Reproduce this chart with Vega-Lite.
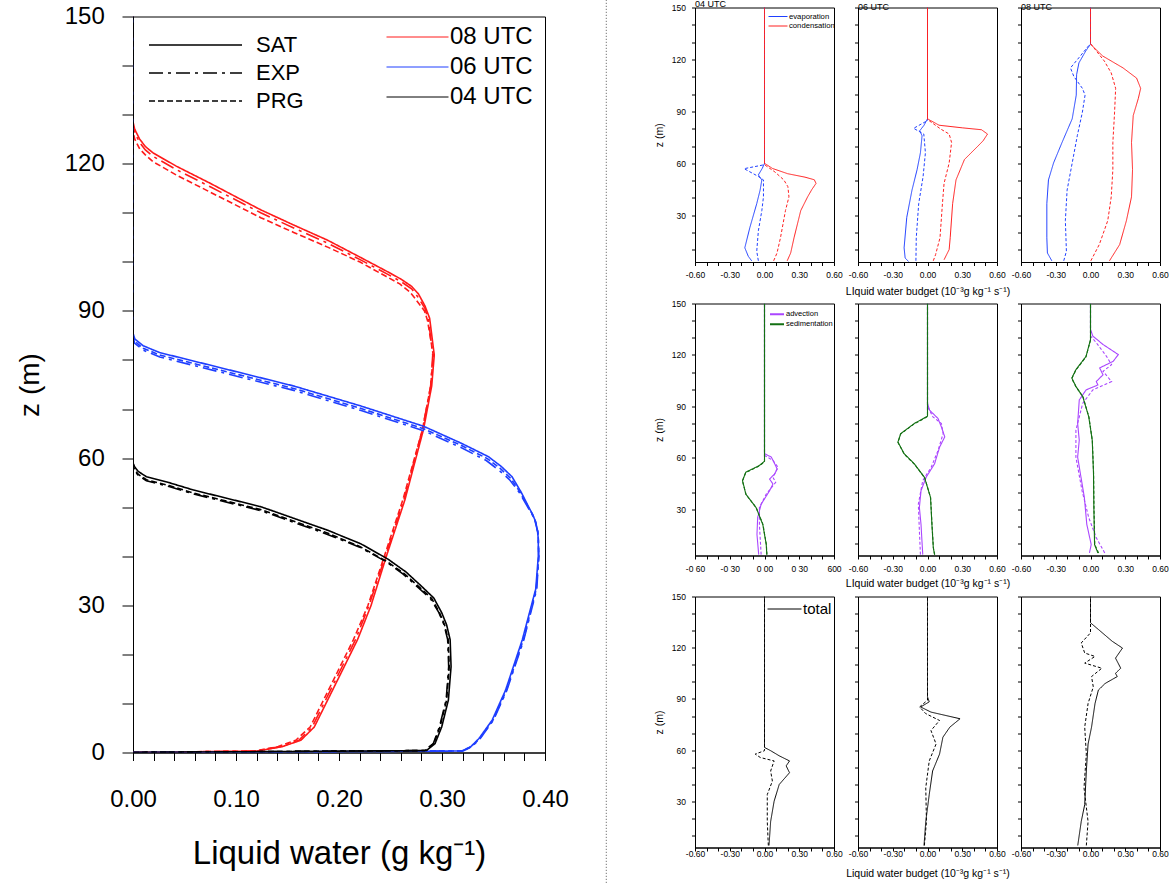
{
"$schema": "https://vega.github.io/schema/vega-lite/v6.json",
"padding": {"left": 15, "top": -1.5, "right": 0, "bottom": 0},
"config": {
  "font": "Liberation Sans",
  "view": {"stroke": "#000000", "strokeWidth": 1},
  "axis": {"domainColor": "#000000", "domainWidth": 1, "grid": false, "labelColor": "#000000", "titleColor": "#000000", "titleFontWeight": "normal", "tickColor": "#000000", "labelOverlap": false, "labelFlush": false},
  "legend": {"labelColor": "#000000", "padding": 0},
  "title": {"color": "#000000", "fontWeight": "normal"},
  "line": {"strokeCap": "butt"}
},
"datasets": {
"left": [
{"t":"08 UTC","s":"SAT","z":0,"v":0},{"t":"08 UTC","s":"SAT","z":0.3,"v":0.1205},{"t":"08 UTC","s":"SAT","z":1.2,"v":0.145},{"t":"08 UTC","s":"SAT","z":2.5,"v":0.163},{"t":"08 UTC","s":"SAT","z":5.2,"v":0.176},{"t":"08 UTC","s":"SAT","z":10.7,"v":0.189},{"t":"08 UTC","s":"SAT","z":16.2,"v":0.202},{"t":"08 UTC","s":"SAT","z":23,"v":0.218},{"t":"08 UTC","s":"SAT","z":29.9,"v":0.231},{"t":"08 UTC","s":"SAT","z":40,"v":0.246},{"t":"08 UTC","s":"SAT","z":51.5,"v":0.264},{"t":"08 UTC","s":"SAT","z":65.8,"v":0.282},{"t":"08 UTC","s":"SAT","z":74.7,"v":0.29},{"t":"08 UTC","s":"SAT","z":81,"v":0.2925},{"t":"08 UTC","s":"SAT","z":88.5,"v":0.288},{"t":"08 UTC","s":"SAT","z":91,"v":0.2835},{"t":"08 UTC","s":"SAT","z":93.5,"v":0.277},{"t":"08 UTC","s":"SAT","z":95,"v":0.2705},{"t":"08 UTC","s":"SAT","z":96.5,"v":0.26},{"t":"08 UTC","s":"SAT","z":98,"v":0.247},{"t":"08 UTC","s":"SAT","z":101,"v":0.22},{"t":"08 UTC","s":"SAT","z":104.4,"v":0.189},{"t":"08 UTC","s":"SAT","z":107.5,"v":0.156},{"t":"08 UTC","s":"SAT","z":110.6,"v":0.124},{"t":"08 UTC","s":"SAT","z":116,"v":0.075},{"t":"08 UTC","s":"SAT","z":119.5,"v":0.042},{"t":"08 UTC","s":"SAT","z":122.2,"v":0.0195},{"t":"08 UTC","s":"SAT","z":123.5,"v":0.012},{"t":"08 UTC","s":"SAT","z":125,"v":0.0065},{"t":"08 UTC","s":"SAT","z":127,"v":0.0017},{"t":"08 UTC","s":"SAT","z":128.5,"v":0},{"t":"08 UTC","s":"SAT","z":150,"v":0},
{"t":"08 UTC","s":"EXP","z":0,"v":0},{"t":"08 UTC","s":"EXP","z":0.3,"v":0.119},{"t":"08 UTC","s":"EXP","z":1.2,"v":0.143},{"t":"08 UTC","s":"EXP","z":2.5,"v":0.161},{"t":"08 UTC","s":"EXP","z":5.2,"v":0.174},{"t":"08 UTC","s":"EXP","z":10.7,"v":0.187},{"t":"08 UTC","s":"EXP","z":16.2,"v":0.2},{"t":"08 UTC","s":"EXP","z":23,"v":0.216},{"t":"08 UTC","s":"EXP","z":29.9,"v":0.229},{"t":"08 UTC","s":"EXP","z":40,"v":0.245},{"t":"08 UTC","s":"EXP","z":51.5,"v":0.263},{"t":"08 UTC","s":"EXP","z":65.8,"v":0.281},{"t":"08 UTC","s":"EXP","z":74.7,"v":0.289},{"t":"08 UTC","s":"EXP","z":81,"v":0.291},{"t":"08 UTC","s":"EXP","z":88,"v":0.287},{"t":"08 UTC","s":"EXP","z":90.5,"v":0.2835},{"t":"08 UTC","s":"EXP","z":93,"v":0.276},{"t":"08 UTC","s":"EXP","z":94.5,"v":0.2705},{"t":"08 UTC","s":"EXP","z":96,"v":0.26},{"t":"08 UTC","s":"EXP","z":97.5,"v":0.247},{"t":"08 UTC","s":"EXP","z":100.5,"v":0.22},{"t":"08 UTC","s":"EXP","z":103.8,"v":0.189},{"t":"08 UTC","s":"EXP","z":106.9,"v":0.156},{"t":"08 UTC","s":"EXP","z":110,"v":0.124},{"t":"08 UTC","s":"EXP","z":115.3,"v":0.075},{"t":"08 UTC","s":"EXP","z":118.8,"v":0.042},{"t":"08 UTC","s":"EXP","z":121.5,"v":0.0195},{"t":"08 UTC","s":"EXP","z":122.8,"v":0.012},{"t":"08 UTC","s":"EXP","z":124.3,"v":0.0065},{"t":"08 UTC","s":"EXP","z":126.3,"v":0.0017},{"t":"08 UTC","s":"EXP","z":127.8,"v":0},{"t":"08 UTC","s":"EXP","z":150,"v":0},
{"t":"08 UTC","s":"PRG","z":0,"v":0},{"t":"08 UTC","s":"PRG","z":0.3,"v":0.118},{"t":"08 UTC","s":"PRG","z":1.2,"v":0.141},{"t":"08 UTC","s":"PRG","z":2.5,"v":0.158},{"t":"08 UTC","s":"PRG","z":5.2,"v":0.172},{"t":"08 UTC","s":"PRG","z":10.7,"v":0.185},{"t":"08 UTC","s":"PRG","z":16.2,"v":0.198},{"t":"08 UTC","s":"PRG","z":23,"v":0.214},{"t":"08 UTC","s":"PRG","z":29.9,"v":0.228},{"t":"08 UTC","s":"PRG","z":40,"v":0.244},{"t":"08 UTC","s":"PRG","z":51.5,"v":0.262},{"t":"08 UTC","s":"PRG","z":65.8,"v":0.281},{"t":"08 UTC","s":"PRG","z":74.7,"v":0.289},{"t":"08 UTC","s":"PRG","z":81,"v":0.2915},{"t":"08 UTC","s":"PRG","z":88,"v":0.286},{"t":"08 UTC","s":"PRG","z":90,"v":0.283},{"t":"08 UTC","s":"PRG","z":92.5,"v":0.274},{"t":"08 UTC","s":"PRG","z":93.8,"v":0.269},{"t":"08 UTC","s":"PRG","z":95.5,"v":0.259},{"t":"08 UTC","s":"PRG","z":97,"v":0.246},{"t":"08 UTC","s":"PRG","z":100,"v":0.22},{"t":"08 UTC","s":"PRG","z":103,"v":0.189},{"t":"08 UTC","s":"PRG","z":106,"v":0.156},{"t":"08 UTC","s":"PRG","z":109,"v":0.124},{"t":"08 UTC","s":"PRG","z":114.2,"v":0.075},{"t":"08 UTC","s":"PRG","z":117.7,"v":0.042},{"t":"08 UTC","s":"PRG","z":120.4,"v":0.0195},{"t":"08 UTC","s":"PRG","z":121.8,"v":0.012},{"t":"08 UTC","s":"PRG","z":123,"v":0.0065},{"t":"08 UTC","s":"PRG","z":125,"v":0.0017},{"t":"08 UTC","s":"PRG","z":126.5,"v":0},{"t":"08 UTC","s":"PRG","z":150,"v":0},
{"t":"06 UTC","s":"SAT","z":0,"v":0},{"t":"06 UTC","s":"SAT","z":0.3,"v":0.3193},{"t":"06 UTC","s":"SAT","z":1.2,"v":0.328},{"t":"06 UTC","s":"SAT","z":2.8,"v":0.3357},{"t":"06 UTC","s":"SAT","z":6.6,"v":0.3487},{"t":"06 UTC","s":"SAT","z":12.7,"v":0.3617},{"t":"06 UTC","s":"SAT","z":23,"v":0.378},{"t":"06 UTC","s":"SAT","z":33.3,"v":0.391},{"t":"06 UTC","s":"SAT","z":40,"v":0.3935},{"t":"06 UTC","s":"SAT","z":43.5,"v":0.3935},{"t":"06 UTC","s":"SAT","z":45,"v":0.3928},{"t":"06 UTC","s":"SAT","z":47,"v":0.391},{"t":"06 UTC","s":"SAT","z":48.5,"v":0.388},{"t":"06 UTC","s":"SAT","z":50.1,"v":0.384},{"t":"06 UTC","s":"SAT","z":53,"v":0.377},{"t":"06 UTC","s":"SAT","z":56.2,"v":0.368},{"t":"06 UTC","s":"SAT","z":58.3,"v":0.3575},{"t":"06 UTC","s":"SAT","z":60.3,"v":0.345},{"t":"06 UTC","s":"SAT","z":63,"v":0.319},{"t":"06 UTC","s":"SAT","z":66.5,"v":0.282},{"t":"06 UTC","s":"SAT","z":70.6,"v":0.2215},{"t":"06 UTC","s":"SAT","z":74.7,"v":0.156},{"t":"06 UTC","s":"SAT","z":78.1,"v":0.091},{"t":"06 UTC","s":"SAT","z":81.5,"v":0.026},{"t":"06 UTC","s":"SAT","z":82.9,"v":0.0098},{"t":"06 UTC","s":"SAT","z":84.3,"v":0.0017},{"t":"06 UTC","s":"SAT","z":85.5,"v":0},{"t":"06 UTC","s":"SAT","z":150,"v":0},
{"t":"06 UTC","s":"EXP","z":0,"v":0},{"t":"06 UTC","s":"EXP","z":0.3,"v":0.3205},{"t":"06 UTC","s":"EXP","z":1.2,"v":0.329},{"t":"06 UTC","s":"EXP","z":2.8,"v":0.337},{"t":"06 UTC","s":"EXP","z":6.6,"v":0.35},{"t":"06 UTC","s":"EXP","z":12.7,"v":0.363},{"t":"06 UTC","s":"EXP","z":23,"v":0.3795},{"t":"06 UTC","s":"EXP","z":33.3,"v":0.392},{"t":"06 UTC","s":"EXP","z":40,"v":0.394},{"t":"06 UTC","s":"EXP","z":43.5,"v":0.3935},{"t":"06 UTC","s":"EXP","z":45,"v":0.393},{"t":"06 UTC","s":"EXP","z":47,"v":0.3905},{"t":"06 UTC","s":"EXP","z":48.5,"v":0.3875},{"t":"06 UTC","s":"EXP","z":50.1,"v":0.383},{"t":"06 UTC","s":"EXP","z":53,"v":0.375},{"t":"06 UTC","s":"EXP","z":55.5,"v":0.366},{"t":"06 UTC","s":"EXP","z":57.5,"v":0.3555},{"t":"06 UTC","s":"EXP","z":59.5,"v":0.343},{"t":"06 UTC","s":"EXP","z":62.2,"v":0.318},{"t":"06 UTC","s":"EXP","z":65.6,"v":0.282},{"t":"06 UTC","s":"EXP","z":69.7,"v":0.2215},{"t":"06 UTC","s":"EXP","z":73.8,"v":0.156},{"t":"06 UTC","s":"EXP","z":77.2,"v":0.091},{"t":"06 UTC","s":"EXP","z":80.6,"v":0.026},{"t":"06 UTC","s":"EXP","z":82,"v":0.0098},{"t":"06 UTC","s":"EXP","z":83.4,"v":0.0017},{"t":"06 UTC","s":"EXP","z":84.6,"v":0},{"t":"06 UTC","s":"EXP","z":150,"v":0},
{"t":"06 UTC","s":"PRG","z":0,"v":0},{"t":"06 UTC","s":"PRG","z":0.3,"v":0.32},{"t":"06 UTC","s":"PRG","z":1.2,"v":0.3285},{"t":"06 UTC","s":"PRG","z":2.8,"v":0.3365},{"t":"06 UTC","s":"PRG","z":6.6,"v":0.3495},{"t":"06 UTC","s":"PRG","z":12.7,"v":0.3625},{"t":"06 UTC","s":"PRG","z":23,"v":0.379},{"t":"06 UTC","s":"PRG","z":33.3,"v":0.3915},{"t":"06 UTC","s":"PRG","z":40,"v":0.394},{"t":"06 UTC","s":"PRG","z":43.5,"v":0.3935},{"t":"06 UTC","s":"PRG","z":45,"v":0.393},{"t":"06 UTC","s":"PRG","z":47,"v":0.3908},{"t":"06 UTC","s":"PRG","z":48.5,"v":0.388},{"t":"06 UTC","s":"PRG","z":50.1,"v":0.3835},{"t":"06 UTC","s":"PRG","z":53,"v":0.376},{"t":"06 UTC","s":"PRG","z":55.8,"v":0.367},{"t":"06 UTC","s":"PRG","z":57.9,"v":0.3565},{"t":"06 UTC","s":"PRG","z":59.9,"v":0.344},{"t":"06 UTC","s":"PRG","z":62.6,"v":0.3185},{"t":"06 UTC","s":"PRG","z":66,"v":0.282},{"t":"06 UTC","s":"PRG","z":70.1,"v":0.2215},{"t":"06 UTC","s":"PRG","z":74.2,"v":0.156},{"t":"06 UTC","s":"PRG","z":77.6,"v":0.091},{"t":"06 UTC","s":"PRG","z":81,"v":0.026},{"t":"06 UTC","s":"PRG","z":82.4,"v":0.0098},{"t":"06 UTC","s":"PRG","z":83.8,"v":0.0017},{"t":"06 UTC","s":"PRG","z":85,"v":0},{"t":"06 UTC","s":"PRG","z":150,"v":0},
{"t":"04 UTC","s":"SAT","z":0,"v":0},{"t":"04 UTC","s":"SAT","z":0.4,"v":0.285},{"t":"04 UTC","s":"SAT","z":1.8,"v":0.2932},{"t":"04 UTC","s":"SAT","z":5.2,"v":0.2997},{"t":"04 UTC","s":"SAT","z":10.7,"v":0.3062},{"t":"04 UTC","s":"SAT","z":17.5,"v":0.3088},{"t":"04 UTC","s":"SAT","z":23,"v":0.3079},{"t":"04 UTC","s":"SAT","z":26,"v":0.3045},{"t":"04 UTC","s":"SAT","z":28.5,"v":0.2997},{"t":"04 UTC","s":"SAT","z":31.5,"v":0.292},{"t":"04 UTC","s":"SAT","z":33.9,"v":0.28},{"t":"04 UTC","s":"SAT","z":36.8,"v":0.265},{"t":"04 UTC","s":"SAT","z":39.4,"v":0.2476},{"t":"04 UTC","s":"SAT","z":42.5,"v":0.2215},{"t":"04 UTC","s":"SAT","z":45.3,"v":0.189},{"t":"04 UTC","s":"SAT","z":50.1,"v":0.124},{"t":"04 UTC","s":"SAT","z":53.5,"v":0.0586},{"t":"04 UTC","s":"SAT","z":55,"v":0.035},{"t":"04 UTC","s":"SAT","z":56.2,"v":0.013},{"t":"04 UTC","s":"SAT","z":57.3,"v":0.005},{"t":"04 UTC","s":"SAT","z":58.2,"v":0.0017},{"t":"04 UTC","s":"SAT","z":59,"v":0},{"t":"04 UTC","s":"SAT","z":150,"v":0},
{"t":"04 UTC","s":"EXP","z":0,"v":0},{"t":"04 UTC","s":"EXP","z":0.4,"v":0.283},{"t":"04 UTC","s":"EXP","z":1.8,"v":0.2915},{"t":"04 UTC","s":"EXP","z":5.2,"v":0.2975},{"t":"04 UTC","s":"EXP","z":10.7,"v":0.304},{"t":"04 UTC","s":"EXP","z":17.5,"v":0.3065},{"t":"04 UTC","s":"EXP","z":23,"v":0.3055},{"t":"04 UTC","s":"EXP","z":26,"v":0.302},{"t":"04 UTC","s":"EXP","z":28.5,"v":0.297},{"t":"04 UTC","s":"EXP","z":31.3,"v":0.289},{"t":"04 UTC","s":"EXP","z":33.6,"v":0.277},{"t":"04 UTC","s":"EXP","z":36.4,"v":0.262},{"t":"04 UTC","s":"EXP","z":38.9,"v":0.2456},{"t":"04 UTC","s":"EXP","z":41.9,"v":0.2195},{"t":"04 UTC","s":"EXP","z":44.6,"v":0.187},{"t":"04 UTC","s":"EXP","z":49.3,"v":0.124},{"t":"04 UTC","s":"EXP","z":52.7,"v":0.0586},{"t":"04 UTC","s":"EXP","z":54.2,"v":0.035},{"t":"04 UTC","s":"EXP","z":55.4,"v":0.013},{"t":"04 UTC","s":"EXP","z":56.5,"v":0.005},{"t":"04 UTC","s":"EXP","z":57.4,"v":0.0017},{"t":"04 UTC","s":"EXP","z":58.2,"v":0},{"t":"04 UTC","s":"EXP","z":150,"v":0},
{"t":"04 UTC","s":"PRG","z":0,"v":0},{"t":"04 UTC","s":"PRG","z":0.4,"v":0.2835},{"t":"04 UTC","s":"PRG","z":1.8,"v":0.292},{"t":"04 UTC","s":"PRG","z":5.2,"v":0.298},{"t":"04 UTC","s":"PRG","z":10.7,"v":0.3045},{"t":"04 UTC","s":"PRG","z":17.5,"v":0.307},{"t":"04 UTC","s":"PRG","z":23,"v":0.306},{"t":"04 UTC","s":"PRG","z":26,"v":0.3025},{"t":"04 UTC","s":"PRG","z":28.5,"v":0.2975},{"t":"04 UTC","s":"PRG","z":31.4,"v":0.29},{"t":"04 UTC","s":"PRG","z":33.7,"v":0.278},{"t":"04 UTC","s":"PRG","z":36.5,"v":0.263},{"t":"04 UTC","s":"PRG","z":39,"v":0.246},{"t":"04 UTC","s":"PRG","z":42,"v":0.22},{"t":"04 UTC","s":"PRG","z":44.8,"v":0.188},{"t":"04 UTC","s":"PRG","z":49.5,"v":0.124},{"t":"04 UTC","s":"PRG","z":52.9,"v":0.0586},{"t":"04 UTC","s":"PRG","z":54.4,"v":0.035},{"t":"04 UTC","s":"PRG","z":55.6,"v":0.013},{"t":"04 UTC","s":"PRG","z":56.7,"v":0.005},{"t":"04 UTC","s":"PRG","z":57.6,"v":0.0017},{"t":"04 UTC","s":"PRG","z":58.4,"v":0},{"t":"04 UTC","s":"PRG","z":150,"v":0}
],
"budget": [
{"r":1,"t":"04","term":"evaporation","s":"SAT","z":150,"v":0},{"r":1,"t":"04","term":"evaporation","s":"SAT","z":60,"v":0},{"r":1,"t":"04","term":"evaporation","s":"SAT","z":57,"v":-0.02},{"r":1,"t":"04","term":"evaporation","s":"SAT","z":53.3,"v":-0.053},{"r":1,"t":"04","term":"evaporation","s":"SAT","z":50.4,"v":-0.023},{"r":1,"t":"04","term":"evaporation","s":"SAT","z":44.5,"v":-0.038},{"r":1,"t":"04","term":"evaporation","s":"SAT","z":36.7,"v":-0.067},{"r":1,"t":"04","term":"evaporation","s":"SAT","z":23,"v":-0.126},{"r":1,"t":"04","term":"evaporation","s":"SAT","z":11.2,"v":-0.17},{"r":1,"t":"04","term":"evaporation","s":"SAT","z":6.3,"v":-0.14},{"r":1,"t":"04","term":"evaporation","s":"SAT","z":3.7,"v":-0.111},
{"r":1,"t":"04","term":"evaporation","s":"PRG","z":150,"v":0},{"r":1,"t":"04","term":"evaporation","s":"PRG","z":59.2,"v":0},{"r":1,"t":"04","term":"evaporation","s":"PRG","z":56.9,"v":-0.176},{"r":1,"t":"04","term":"evaporation","s":"PRG","z":52.4,"v":-0.053},{"r":1,"t":"04","term":"evaporation","s":"PRG","z":50.4,"v":-0.009},{"r":1,"t":"04","term":"evaporation","s":"PRG","z":40.6,"v":-0.009},{"r":1,"t":"04","term":"evaporation","s":"PRG","z":32.7,"v":-0.023},{"r":1,"t":"04","term":"evaporation","s":"PRG","z":21,"v":-0.053},{"r":1,"t":"04","term":"evaporation","s":"PRG","z":9.2,"v":-0.067},{"r":1,"t":"04","term":"evaporation","s":"PRG","z":3.7,"v":-0.053},
{"r":1,"t":"04","term":"condensation","s":"SAT","z":150,"v":0},{"r":1,"t":"04","term":"condensation","s":"SAT","z":60,"v":0},{"r":1,"t":"04","term":"condensation","s":"SAT","z":57,"v":0.07},{"r":1,"t":"04","term":"condensation","s":"SAT","z":54,"v":0.2},{"r":1,"t":"04","term":"condensation","s":"SAT","z":52,"v":0.35},{"r":1,"t":"04","term":"condensation","s":"SAT","z":50.5,"v":0.43},{"r":1,"t":"04","term":"condensation","s":"SAT","z":48.4,"v":0.445},{"r":1,"t":"04","term":"condensation","s":"SAT","z":45,"v":0.41},{"r":1,"t":"04","term":"condensation","s":"SAT","z":40.6,"v":0.372},{"r":1,"t":"04","term":"condensation","s":"SAT","z":32.7,"v":0.313},{"r":1,"t":"04","term":"condensation","s":"SAT","z":17,"v":0.255},{"r":1,"t":"04","term":"condensation","s":"SAT","z":8.2,"v":0.226},{"r":1,"t":"04","term":"condensation","s":"SAT","z":3.7,"v":0.196},
{"r":1,"t":"04","term":"condensation","s":"PRG","z":150,"v":0},{"r":1,"t":"04","term":"condensation","s":"PRG","z":59.2,"v":0},{"r":1,"t":"04","term":"condensation","s":"PRG","z":55,"v":0.09},{"r":1,"t":"04","term":"condensation","s":"PRG","z":50.4,"v":0.167},{"r":1,"t":"04","term":"condensation","s":"PRG","z":46.5,"v":0.202},{"r":1,"t":"04","term":"condensation","s":"PRG","z":40.6,"v":0.211},{"r":1,"t":"04","term":"condensation","s":"PRG","z":32.7,"v":0.181},{"r":1,"t":"04","term":"condensation","s":"PRG","z":17,"v":0.138},{"r":1,"t":"04","term":"condensation","s":"PRG","z":8.2,"v":0.108},{"r":1,"t":"04","term":"condensation","s":"PRG","z":3.7,"v":0.079},
{"r":1,"t":"06","term":"evaporation","s":"SAT","z":150,"v":0},{"r":1,"t":"06","term":"evaporation","s":"SAT","z":85.7,"v":0},{"r":1,"t":"06","term":"evaporation","s":"SAT","z":82,"v":-0.03},{"r":1,"t":"06","term":"evaporation","s":"SAT","z":78.8,"v":-0.067},{"r":1,"t":"06","term":"evaporation","s":"SAT","z":75.9,"v":-0.047},{"r":1,"t":"06","term":"evaporation","s":"SAT","z":66.1,"v":-0.061},{"r":1,"t":"06","term":"evaporation","s":"SAT","z":56.3,"v":-0.09},{"r":1,"t":"06","term":"evaporation","s":"SAT","z":44.5,"v":-0.134},{"r":1,"t":"06","term":"evaporation","s":"SAT","z":28.8,"v":-0.179},{"r":1,"t":"06","term":"evaporation","s":"SAT","z":11.2,"v":-0.202},{"r":1,"t":"06","term":"evaporation","s":"SAT","z":5.3,"v":-0.193},{"r":1,"t":"06","term":"evaporation","s":"SAT","z":3.3,"v":-0.164},
{"r":1,"t":"06","term":"evaporation","s":"PRG","z":150,"v":0},{"r":1,"t":"06","term":"evaporation","s":"PRG","z":84.7,"v":0},{"r":1,"t":"06","term":"evaporation","s":"PRG","z":80.2,"v":-0.12},{"r":1,"t":"06","term":"evaporation","s":"PRG","z":76.9,"v":-0.032},{"r":1,"t":"06","term":"evaporation","s":"PRG","z":66.1,"v":-0.018},{"r":1,"t":"06","term":"evaporation","s":"PRG","z":52.4,"v":-0.038},{"r":1,"t":"06","term":"evaporation","s":"PRG","z":36.7,"v":-0.076},{"r":1,"t":"06","term":"evaporation","s":"PRG","z":17,"v":-0.097},{"r":1,"t":"06","term":"evaporation","s":"PRG","z":3.7,"v":-0.1},
{"r":1,"t":"06","term":"condensation","s":"SAT","z":150,"v":0},{"r":1,"t":"06","term":"condensation","s":"SAT","z":85.7,"v":0},{"r":1,"t":"06","term":"condensation","s":"SAT","z":82,"v":0.1},{"r":1,"t":"06","term":"condensation","s":"SAT","z":80.5,"v":0.3},{"r":1,"t":"06","term":"condensation","s":"SAT","z":79.4,"v":0.466},{"r":1,"t":"06","term":"condensation","s":"SAT","z":76.9,"v":0.518},{"r":1,"t":"06","term":"condensation","s":"SAT","z":73,"v":0.48},{"r":1,"t":"06","term":"condensation","s":"SAT","z":70,"v":0.436},{"r":1,"t":"06","term":"condensation","s":"SAT","z":62.2,"v":0.319},{"r":1,"t":"06","term":"condensation","s":"SAT","z":50.4,"v":0.246},{"r":1,"t":"06","term":"condensation","s":"SAT","z":36.7,"v":0.217},{"r":1,"t":"06","term":"condensation","s":"SAT","z":17,"v":0.196},{"r":1,"t":"06","term":"condensation","s":"SAT","z":10.2,"v":0.187},{"r":1,"t":"06","term":"condensation","s":"SAT","z":4.3,"v":0.143},
{"r":1,"t":"06","term":"condensation","s":"PRG","z":150,"v":0},{"r":1,"t":"06","term":"condensation","s":"PRG","z":85.3,"v":0},{"r":1,"t":"06","term":"condensation","s":"PRG","z":79.8,"v":0.114},{"r":1,"t":"06","term":"condensation","s":"PRG","z":76.9,"v":0.187},{"r":1,"t":"06","term":"condensation","s":"PRG","z":72,"v":0.208},{"r":1,"t":"06","term":"condensation","s":"PRG","z":60.2,"v":0.187},{"r":1,"t":"06","term":"condensation","s":"PRG","z":48.4,"v":0.143},{"r":1,"t":"06","term":"condensation","s":"PRG","z":36.7,"v":0.129},{"r":1,"t":"06","term":"condensation","s":"PRG","z":17,"v":0.108},{"r":1,"t":"06","term":"condensation","s":"PRG","z":7.3,"v":0.07},{"r":1,"t":"06","term":"condensation","s":"PRG","z":3.7,"v":0.05},
{"r":1,"t":"08","term":"evaporation","s":"SAT","z":150,"v":0},{"r":1,"t":"08","term":"evaporation","s":"SAT","z":128.8,"v":0},{"r":1,"t":"08","term":"evaporation","s":"SAT","z":124.9,"v":-0.041},{"r":1,"t":"08","term":"evaporation","s":"SAT","z":118,"v":-0.1},{"r":1,"t":"08","term":"evaporation","s":"SAT","z":111.2,"v":-0.12},{"r":1,"t":"08","term":"evaporation","s":"SAT","z":99.4,"v":-0.123},{"r":1,"t":"08","term":"evaporation","s":"SAT","z":85.7,"v":-0.158},{"r":1,"t":"08","term":"evaporation","s":"SAT","z":72,"v":-0.246},{"r":1,"t":"08","term":"evaporation","s":"SAT","z":60.2,"v":-0.319},{"r":1,"t":"08","term":"evaporation","s":"SAT","z":50.4,"v":-0.363},{"r":1,"t":"08","term":"evaporation","s":"SAT","z":36.7,"v":-0.377},{"r":1,"t":"08","term":"evaporation","s":"SAT","z":17,"v":-0.377},{"r":1,"t":"08","term":"evaporation","s":"SAT","z":8.2,"v":-0.372},{"r":1,"t":"08","term":"evaporation","s":"SAT","z":3.7,"v":-0.334},
{"r":1,"t":"08","term":"evaporation","s":"PRG","z":150,"v":0},{"r":1,"t":"08","term":"evaporation","s":"PRG","z":129.2,"v":0},{"r":1,"t":"08","term":"evaporation","s":"PRG","z":121,"v":-0.1},{"r":1,"t":"08","term":"evaporation","s":"PRG","z":115.1,"v":-0.173},{"r":1,"t":"08","term":"evaporation","s":"PRG","z":110.2,"v":-0.144},{"r":1,"t":"08","term":"evaporation","s":"PRG","z":103.3,"v":-0.07},{"r":1,"t":"08","term":"evaporation","s":"PRG","z":99.4,"v":-0.047},{"r":1,"t":"08","term":"evaporation","s":"PRG","z":89.6,"v":-0.07},{"r":1,"t":"08","term":"evaporation","s":"PRG","z":75.9,"v":-0.114},{"r":1,"t":"08","term":"evaporation","s":"PRG","z":60.2,"v":-0.158},{"r":1,"t":"08","term":"evaporation","s":"PRG","z":44.5,"v":-0.202},{"r":1,"t":"08","term":"evaporation","s":"PRG","z":26.9,"v":-0.217},{"r":1,"t":"08","term":"evaporation","s":"PRG","z":9.2,"v":-0.208},{"r":1,"t":"08","term":"evaporation","s":"PRG","z":3.7,"v":-0.231},
{"r":1,"t":"08","term":"condensation","s":"SAT","z":150,"v":0},{"r":1,"t":"08","term":"condensation","s":"SAT","z":128.8,"v":0},{"r":1,"t":"08","term":"condensation","s":"SAT","z":122,"v":0.105},{"r":1,"t":"08","term":"condensation","s":"SAT","z":115.1,"v":0.281},{"r":1,"t":"08","term":"condensation","s":"SAT","z":109.2,"v":0.398},{"r":1,"t":"08","term":"condensation","s":"SAT","z":103.3,"v":0.433},{"r":1,"t":"08","term":"condensation","s":"SAT","z":97.5,"v":0.413},{"r":1,"t":"08","term":"condensation","s":"SAT","z":87.6,"v":0.369},{"r":1,"t":"08","term":"condensation","s":"SAT","z":72,"v":0.354},{"r":1,"t":"08","term":"condensation","s":"SAT","z":56.3,"v":0.363},{"r":1,"t":"08","term":"condensation","s":"SAT","z":40.6,"v":0.354},{"r":1,"t":"08","term":"condensation","s":"SAT","z":26.9,"v":0.31},{"r":1,"t":"08","term":"condensation","s":"SAT","z":13.1,"v":0.252},{"r":1,"t":"08","term":"condensation","s":"SAT","z":3.7,"v":0.164},
{"r":1,"t":"08","term":"condensation","s":"PRG","z":150,"v":0},{"r":1,"t":"08","term":"condensation","s":"PRG","z":129.2,"v":0},{"r":1,"t":"08","term":"condensation","s":"PRG","z":119,"v":0.12},{"r":1,"t":"08","term":"condensation","s":"PRG","z":112.2,"v":0.179},{"r":1,"t":"08","term":"condensation","s":"PRG","z":103.3,"v":0.217},{"r":1,"t":"08","term":"condensation","s":"PRG","z":89.6,"v":0.208},{"r":1,"t":"08","term":"condensation","s":"PRG","z":72,"v":0.193},{"r":1,"t":"08","term":"condensation","s":"PRG","z":56.3,"v":0.193},{"r":1,"t":"08","term":"condensation","s":"PRG","z":40.6,"v":0.179},{"r":1,"t":"08","term":"condensation","s":"PRG","z":26.9,"v":0.149},{"r":1,"t":"08","term":"condensation","s":"PRG","z":13.1,"v":0.076},{"r":1,"t":"08","term":"condensation","s":"PRG","z":3.7,"v":0.003},
{"r":2,"t":"04","term":"advection","s":"SAT","z":150,"v":0},{"r":2,"t":"04","term":"advection","s":"SAT","z":62.4,"v":0},{"r":2,"t":"04","term":"advection","s":"SAT","z":60.4,"v":0.059},{"r":2,"t":"04","term":"advection","s":"SAT","z":56.5,"v":0.088},{"r":2,"t":"04","term":"advection","s":"SAT","z":53.5,"v":0.109},{"r":2,"t":"04","term":"advection","s":"SAT","z":50.6,"v":0.088},{"r":2,"t":"04","term":"advection","s":"SAT","z":47.6,"v":0.044},{"r":2,"t":"04","term":"advection","s":"SAT","z":44.7,"v":0.073},{"r":2,"t":"04","term":"advection","s":"SAT","z":40.8,"v":0.044},{"r":2,"t":"04","term":"advection","s":"SAT","z":32.9,"v":-0.029},{"r":2,"t":"04","term":"advection","s":"SAT","z":25.1,"v":-0.059},{"r":2,"t":"04","term":"advection","s":"SAT","z":15.3,"v":-0.065},{"r":2,"t":"04","term":"advection","s":"SAT","z":3.5,"v":-0.05},
{"r":2,"t":"04","term":"advection","s":"PRG","z":150,"v":0},{"r":2,"t":"04","term":"advection","s":"PRG","z":61.4,"v":0},{"r":2,"t":"04","term":"advection","s":"PRG","z":58.4,"v":0.073},{"r":2,"t":"04","term":"advection","s":"PRG","z":54.5,"v":0.117},{"r":2,"t":"04","term":"advection","s":"PRG","z":48.6,"v":0.073},{"r":2,"t":"04","term":"advection","s":"PRG","z":45.7,"v":0.097},{"r":2,"t":"04","term":"advection","s":"PRG","z":38.8,"v":0.015},{"r":2,"t":"04","term":"advection","s":"PRG","z":31,"v":-0.044},{"r":2,"t":"04","term":"advection","s":"PRG","z":21.2,"v":-0.044},{"r":2,"t":"04","term":"advection","s":"PRG","z":3.5,"v":-0.029},
{"r":2,"t":"04","term":"sedimentation","s":"SAT","z":150,"v":0},{"r":2,"t":"04","term":"sedimentation","s":"SAT","z":58,"v":0},{"r":2,"t":"04","term":"sedimentation","s":"SAT","z":55.5,"v":-0.044},{"r":2,"t":"04","term":"sedimentation","s":"SAT","z":51.6,"v":-0.161},{"r":2,"t":"04","term":"sedimentation","s":"SAT","z":46.7,"v":-0.19},{"r":2,"t":"04","term":"sedimentation","s":"SAT","z":38.8,"v":-0.161},{"r":2,"t":"04","term":"sedimentation","s":"SAT","z":31,"v":-0.073},{"r":2,"t":"04","term":"sedimentation","s":"SAT","z":21.2,"v":-0.015},{"r":2,"t":"04","term":"sedimentation","s":"SAT","z":9.4,"v":0.015},{"r":2,"t":"04","term":"sedimentation","s":"SAT","z":3.5,"v":0.02},
{"r":2,"t":"04","term":"sedimentation","s":"PRG","z":150,"v":0},{"r":2,"t":"04","term":"sedimentation","s":"PRG","z":57.6,"v":0},{"r":2,"t":"04","term":"sedimentation","s":"PRG","z":55.2,"v":-0.046},{"r":2,"t":"04","term":"sedimentation","s":"PRG","z":51.3,"v":-0.163},{"r":2,"t":"04","term":"sedimentation","s":"PRG","z":46.4,"v":-0.19},{"r":2,"t":"04","term":"sedimentation","s":"PRG","z":38.5,"v":-0.159},{"r":2,"t":"04","term":"sedimentation","s":"PRG","z":30.7,"v":-0.07},{"r":2,"t":"04","term":"sedimentation","s":"PRG","z":21,"v":-0.013},{"r":2,"t":"04","term":"sedimentation","s":"PRG","z":9.4,"v":0.016},{"r":2,"t":"04","term":"sedimentation","s":"PRG","z":3.5,"v":0.021},
{"r":2,"t":"06","term":"advection","s":"SAT","z":150,"v":0},{"r":2,"t":"06","term":"advection","s":"SAT","z":91.8,"v":0},{"r":2,"t":"06","term":"advection","s":"SAT","z":87.8,"v":0.018},{"r":2,"t":"06","term":"advection","s":"SAT","z":82.9,"v":0.091},{"r":2,"t":"06","term":"advection","s":"SAT","z":78,"v":0.12},{"r":2,"t":"06","term":"advection","s":"SAT","z":72.2,"v":0.149},{"r":2,"t":"06","term":"advection","s":"SAT","z":66.3,"v":0.105},{"r":2,"t":"06","term":"advection","s":"SAT","z":56.5,"v":0.061},{"r":2,"t":"06","term":"advection","s":"SAT","z":48.6,"v":-0.012},{"r":2,"t":"06","term":"advection","s":"SAT","z":40.8,"v":-0.056},{"r":2,"t":"06","term":"advection","s":"SAT","z":31,"v":-0.07},{"r":2,"t":"06","term":"advection","s":"SAT","z":21.2,"v":-0.056},{"r":2,"t":"06","term":"advection","s":"SAT","z":3.5,"v":-0.041},
{"r":2,"t":"06","term":"advection","s":"PRG","z":150,"v":0},{"r":2,"t":"06","term":"advection","s":"PRG","z":89.8,"v":0},{"r":2,"t":"06","term":"advection","s":"PRG","z":83.9,"v":0.047},{"r":2,"t":"06","term":"advection","s":"PRG","z":80,"v":0.12},{"r":2,"t":"06","term":"advection","s":"PRG","z":74.1,"v":0.135},{"r":2,"t":"06","term":"advection","s":"PRG","z":64.3,"v":0.091},{"r":2,"t":"06","term":"advection","s":"PRG","z":54.5,"v":0.032},{"r":2,"t":"06","term":"advection","s":"PRG","z":46.7,"v":-0.041},{"r":2,"t":"06","term":"advection","s":"PRG","z":33,"v":-0.079},{"r":2,"t":"06","term":"advection","s":"PRG","z":17.3,"v":-0.07},{"r":2,"t":"06","term":"advection","s":"PRG","z":3.5,"v":-0.061},
{"r":2,"t":"06","term":"sedimentation","s":"SAT","z":150,"v":0},{"r":2,"t":"06","term":"sedimentation","s":"SAT","z":84.3,"v":0},{"r":2,"t":"06","term":"sedimentation","s":"SAT","z":80,"v":-0.114},{"r":2,"t":"06","term":"sedimentation","s":"SAT","z":74.1,"v":-0.231},{"r":2,"t":"06","term":"sedimentation","s":"SAT","z":69.2,"v":-0.255},{"r":2,"t":"06","term":"sedimentation","s":"SAT","z":62.4,"v":-0.202},{"r":2,"t":"06","term":"sedimentation","s":"SAT","z":56.5,"v":-0.114},{"r":2,"t":"06","term":"sedimentation","s":"SAT","z":48.6,"v":-0.026},{"r":2,"t":"06","term":"sedimentation","s":"SAT","z":36.9,"v":0.026},{"r":2,"t":"06","term":"sedimentation","s":"SAT","z":21.2,"v":0.038},{"r":2,"t":"06","term":"sedimentation","s":"SAT","z":7.5,"v":0.05},{"r":2,"t":"06","term":"sedimentation","s":"SAT","z":3.5,"v":0.061},
{"r":2,"t":"06","term":"sedimentation","s":"PRG","z":150,"v":0},{"r":2,"t":"06","term":"sedimentation","s":"PRG","z":84,"v":0},{"r":2,"t":"06","term":"sedimentation","s":"PRG","z":79.7,"v":-0.116},{"r":2,"t":"06","term":"sedimentation","s":"PRG","z":73.8,"v":-0.233},{"r":2,"t":"06","term":"sedimentation","s":"PRG","z":68.9,"v":-0.255},{"r":2,"t":"06","term":"sedimentation","s":"PRG","z":62.1,"v":-0.2},{"r":2,"t":"06","term":"sedimentation","s":"PRG","z":56.2,"v":-0.112},{"r":2,"t":"06","term":"sedimentation","s":"PRG","z":48.3,"v":-0.024},{"r":2,"t":"06","term":"sedimentation","s":"PRG","z":36.6,"v":0.027},{"r":2,"t":"06","term":"sedimentation","s":"PRG","z":21,"v":0.039},{"r":2,"t":"06","term":"sedimentation","s":"PRG","z":7.5,"v":0.051},{"r":2,"t":"06","term":"sedimentation","s":"PRG","z":3.5,"v":0.062},
{"r":2,"t":"08","term":"advection","s":"SAT","z":150,"v":0},{"r":2,"t":"08","term":"advection","s":"SAT","z":134.9,"v":0},{"r":2,"t":"08","term":"advection","s":"SAT","z":131,"v":0.02},{"r":2,"t":"08","term":"advection","s":"SAT","z":126.1,"v":0.108},{"r":2,"t":"08","term":"advection","s":"SAT","z":120.2,"v":0.24},{"r":2,"t":"08","term":"advection","s":"SAT","z":116.3,"v":0.196},{"r":2,"t":"08","term":"advection","s":"SAT","z":112.4,"v":0.079},{"r":2,"t":"08","term":"advection","s":"SAT","z":108.4,"v":0.108},{"r":2,"t":"08","term":"advection","s":"SAT","z":104.5,"v":0.05},{"r":2,"t":"08","term":"advection","s":"SAT","z":102.5,"v":0.064},{"r":2,"t":"08","term":"advection","s":"SAT","z":99.6,"v":-0.038},{"r":2,"t":"08","term":"advection","s":"SAT","z":93.7,"v":-0.097},{"r":2,"t":"08","term":"advection","s":"SAT","z":80,"v":-0.111},{"r":2,"t":"08","term":"advection","s":"SAT","z":70.2,"v":-0.097},{"r":2,"t":"08","term":"advection","s":"SAT","z":60.4,"v":-0.111},{"r":2,"t":"08","term":"advection","s":"SAT","z":48.6,"v":-0.082},{"r":2,"t":"08","term":"advection","s":"SAT","z":36.9,"v":-0.053},{"r":2,"t":"08","term":"advection","s":"SAT","z":21.2,"v":-0.032},{"r":2,"t":"08","term":"advection","s":"SAT","z":9.4,"v":0.006},{"r":2,"t":"08","term":"advection","s":"SAT","z":4.5,"v":-0.009},
{"r":2,"t":"08","term":"advection","s":"PRG","z":150,"v":0},{"r":2,"t":"08","term":"advection","s":"PRG","z":131,"v":0},{"r":2,"t":"08","term":"advection","s":"PRG","z":127.1,"v":0.05},{"r":2,"t":"08","term":"advection","s":"PRG","z":119.2,"v":0.138},{"r":2,"t":"08","term":"advection","s":"PRG","z":114.3,"v":0.182},{"r":2,"t":"08","term":"advection","s":"PRG","z":110.4,"v":0.108},{"r":2,"t":"08","term":"advection","s":"PRG","z":104.5,"v":0.182},{"r":2,"t":"08","term":"advection","s":"PRG","z":99.6,"v":0.02},{"r":2,"t":"08","term":"advection","s":"PRG","z":91.8,"v":-0.067},{"r":2,"t":"08","term":"advection","s":"PRG","z":76.1,"v":-0.126},{"r":2,"t":"08","term":"advection","s":"PRG","z":60.4,"v":-0.126},{"r":2,"t":"08","term":"advection","s":"PRG","z":40.8,"v":-0.073},{"r":2,"t":"08","term":"advection","s":"PRG","z":25.1,"v":-0.015},{"r":2,"t":"08","term":"advection","s":"PRG","z":13.3,"v":0.05},{"r":2,"t":"08","term":"advection","s":"PRG","z":4.5,"v":0.123},
{"r":2,"t":"08","term":"sedimentation","s":"SAT","z":150,"v":0},{"r":2,"t":"08","term":"sedimentation","s":"SAT","z":129,"v":0},{"r":2,"t":"08","term":"sedimentation","s":"SAT","z":119.2,"v":-0.038},{"r":2,"t":"08","term":"sedimentation","s":"SAT","z":111.4,"v":-0.126},{"r":2,"t":"08","term":"sedimentation","s":"SAT","z":106.5,"v":-0.161},{"r":2,"t":"08","term":"sedimentation","s":"SAT","z":101.6,"v":-0.126},{"r":2,"t":"08","term":"sedimentation","s":"SAT","z":95.7,"v":-0.067},{"r":2,"t":"08","term":"sedimentation","s":"SAT","z":83.9,"v":-0.015},{"r":2,"t":"08","term":"sedimentation","s":"SAT","z":70.2,"v":0.015},{"r":2,"t":"08","term":"sedimentation","s":"SAT","z":50.6,"v":0.026},{"r":2,"t":"08","term":"sedimentation","s":"SAT","z":31,"v":0.029},{"r":2,"t":"08","term":"sedimentation","s":"SAT","z":9.4,"v":0.035},{"r":2,"t":"08","term":"sedimentation","s":"SAT","z":4.5,"v":0.064},
{"r":2,"t":"08","term":"sedimentation","s":"PRG","z":150,"v":0},{"r":2,"t":"08","term":"sedimentation","s":"PRG","z":128.5,"v":0},{"r":2,"t":"08","term":"sedimentation","s":"PRG","z":118.8,"v":-0.04},{"r":2,"t":"08","term":"sedimentation","s":"PRG","z":111,"v":-0.128},{"r":2,"t":"08","term":"sedimentation","s":"PRG","z":106.2,"v":-0.162},{"r":2,"t":"08","term":"sedimentation","s":"PRG","z":101.3,"v":-0.124},{"r":2,"t":"08","term":"sedimentation","s":"PRG","z":95.4,"v":-0.064},{"r":2,"t":"08","term":"sedimentation","s":"PRG","z":83.6,"v":-0.013},{"r":2,"t":"08","term":"sedimentation","s":"PRG","z":70,"v":0.016},{"r":2,"t":"08","term":"sedimentation","s":"PRG","z":50.4,"v":0.027},{"r":2,"t":"08","term":"sedimentation","s":"PRG","z":31,"v":0.03},{"r":2,"t":"08","term":"sedimentation","s":"PRG","z":9.4,"v":0.037},{"r":2,"t":"08","term":"sedimentation","s":"PRG","z":4.5,"v":0.07},
{"r":3,"t":"04","term":"total","s":"SAT","z":150,"v":0},{"r":3,"t":"04","term":"total","s":"SAT","z":61.6,"v":0},{"r":3,"t":"04","term":"total","s":"SAT","z":59.7,"v":0.053},{"r":3,"t":"04","term":"total","s":"SAT","z":56.7,"v":0.127},{"r":3,"t":"04","term":"total","s":"SAT","z":53.7,"v":0.216},{"r":3,"t":"04","term":"total","s":"SAT","z":50.8,"v":0.187},{"r":3,"t":"04","term":"total","s":"SAT","z":46.8,"v":0.216},{"r":3,"t":"04","term":"total","s":"SAT","z":39.9,"v":0.127},{"r":3,"t":"04","term":"total","s":"SAT","z":30.1,"v":0.083},{"r":3,"t":"04","term":"total","s":"SAT","z":18.2,"v":0.053},{"r":3,"t":"04","term":"total","s":"SAT","z":4.2,"v":0.039},
{"r":3,"t":"04","term":"total","s":"PRG","z":150,"v":0},{"r":3,"t":"04","term":"total","s":"PRG","z":59.7,"v":0},{"r":3,"t":"04","term":"total","s":"PRG","z":57.7,"v":-0.08},{"r":3,"t":"04","term":"total","s":"PRG","z":55.7,"v":-0.036},{"r":3,"t":"04","term":"total","s":"PRG","z":53.7,"v":0.083},{"r":3,"t":"04","term":"total","s":"PRG","z":47.8,"v":0.053},{"r":3,"t":"04","term":"total","s":"PRG","z":41.9,"v":0.068},{"r":3,"t":"04","term":"total","s":"PRG","z":34,"v":0.024},{"r":3,"t":"04","term":"total","s":"PRG","z":18.2,"v":0.024},{"r":3,"t":"04","term":"total","s":"PRG","z":4.2,"v":0.033},
{"r":3,"t":"06","term":"total","s":"SAT","z":150,"v":0},{"r":3,"t":"06","term":"total","s":"SAT","z":91.2,"v":0},{"r":3,"t":"06","term":"total","s":"SAT","z":88.3,"v":0.015},{"r":3,"t":"06","term":"total","s":"SAT","z":85.3,"v":-0.059},{"r":3,"t":"06","term":"total","s":"SAT","z":82.3,"v":0.03},{"r":3,"t":"06","term":"total","s":"SAT","z":78.4,"v":0.281},{"r":3,"t":"06","term":"total","s":"SAT","z":73.5,"v":0.193},{"r":3,"t":"06","term":"total","s":"SAT","z":67.6,"v":0.133},{"r":3,"t":"06","term":"total","s":"SAT","z":57.7,"v":0.104},{"r":3,"t":"06","term":"total","s":"SAT","z":47.8,"v":0.044},{"r":3,"t":"06","term":"total","s":"SAT","z":34,"v":0.015},{"r":3,"t":"06","term":"total","s":"SAT","z":18.2,"v":-0.015},{"r":3,"t":"06","term":"total","s":"SAT","z":4.2,"v":-0.03},
{"r":3,"t":"06","term":"total","s":"PRG","z":150,"v":0},{"r":3,"t":"06","term":"total","s":"PRG","z":89.3,"v":0},{"r":3,"t":"06","term":"total","s":"PRG","z":85.3,"v":-0.068},{"r":3,"t":"06","term":"total","s":"PRG","z":81.4,"v":-0.015},{"r":3,"t":"06","term":"total","s":"PRG","z":77.4,"v":0.104},{"r":3,"t":"06","term":"total","s":"PRG","z":71.5,"v":0.03},{"r":3,"t":"06","term":"total","s":"PRG","z":63.6,"v":0.074},{"r":3,"t":"06","term":"total","s":"PRG","z":53.7,"v":0.015},{"r":3,"t":"06","term":"total","s":"PRG","z":38,"v":-0.015},{"r":3,"t":"06","term":"total","s":"PRG","z":18.2,"v":-0.009},{"r":3,"t":"06","term":"total","s":"PRG","z":4.2,"v":-0.027},
{"r":3,"t":"08","term":"total","s":"SAT","z":150,"v":0},{"r":3,"t":"08","term":"total","s":"SAT","z":134.6,"v":0},{"r":3,"t":"08","term":"total","s":"SAT","z":130.7,"v":0.068},{"r":3,"t":"08","term":"total","s":"SAT","z":123.8,"v":0.187},{"r":3,"t":"08","term":"total","s":"SAT","z":119.8,"v":0.276},{"r":3,"t":"08","term":"total","s":"SAT","z":113.9,"v":0.216},{"r":3,"t":"08","term":"total","s":"SAT","z":108,"v":0.261},{"r":3,"t":"08","term":"total","s":"SAT","z":105,"v":0.216},{"r":3,"t":"08","term":"total","s":"SAT","z":103.1,"v":0.231},{"r":3,"t":"08","term":"total","s":"SAT","z":99.1,"v":0.127},{"r":3,"t":"08","term":"total","s":"SAT","z":95.2,"v":0.068},{"r":3,"t":"08","term":"total","s":"SAT","z":87.3,"v":0.039},{"r":3,"t":"08","term":"total","s":"SAT","z":73.5,"v":0.009},{"r":3,"t":"08","term":"total","s":"SAT","z":63.6,"v":-0.021},{"r":3,"t":"08","term":"total","s":"SAT","z":47.8,"v":-0.036},{"r":3,"t":"08","term":"total","s":"SAT","z":28.1,"v":-0.05},{"r":3,"t":"08","term":"total","s":"SAT","z":18.2,"v":-0.08},{"r":3,"t":"08","term":"total","s":"SAT","z":4.2,"v":-0.11},
{"r":3,"t":"08","term":"total","s":"PRG","z":150,"v":0},{"r":3,"t":"08","term":"total","s":"PRG","z":128.7,"v":0},{"r":3,"t":"08","term":"total","s":"PRG","z":122.8,"v":-0.08},{"r":3,"t":"08","term":"total","s":"PRG","z":116.9,"v":-0.05},{"r":3,"t":"08","term":"total","s":"PRG","z":114.9,"v":0.039},{"r":3,"t":"08","term":"total","s":"PRG","z":111,"v":-0.05},{"r":3,"t":"08","term":"total","s":"PRG","z":108,"v":0.098},{"r":3,"t":"08","term":"total","s":"PRG","z":103.1,"v":0.009},{"r":3,"t":"08","term":"total","s":"PRG","z":97.1,"v":0.024},{"r":3,"t":"08","term":"total","s":"PRG","z":87.3,"v":-0.021},{"r":3,"t":"08","term":"total","s":"PRG","z":73.5,"v":-0.05},{"r":3,"t":"08","term":"total","s":"PRG","z":57.7,"v":-0.036},{"r":3,"t":"08","term":"total","s":"PRG","z":38,"v":-0.056},{"r":3,"t":"08","term":"total","s":"PRG","z":18.2,"v":-0.021},{"r":3,"t":"08","term":"total","s":"PRG","z":4.2,"v":-0.036}
]
},
"spacing": 46,
"resolve": {"scale": {"color": "independent", "strokeDash": "independent"}},
"hconcat": [
{
 "bounds": "flush",
 "spacing": 8,
 "resolve": {"scale": {"color": "independent", "strokeDash": "independent"}},
 "vconcat": [
  {"width": 412, "height": 1, "data": {"values": [{}]}, "mark": {"type": "point", "opacity": 0}, "view": {"stroke": null}},
  {
   "width": 412, "height": 736,
   "layer": [
    {
     "data": {"name": "left"},
     "mark": {"type": "line", "strokeWidth": 1.6, "clip": true},
     "encoding": {
      "x": {"field": "v", "type": "quantitative", "scale": {"domain": [0, 0.4], "nice": false, "zero": false},
        "axis": {"values": [0,0.02,0.04,0.06,0.08,0.1,0.12,0.14,0.16,0.18,0.2,0.22,0.24,0.26,0.28,0.3,0.32,0.34,0.36,0.38,0.4], "tickCount": 100,
          "labelExpr": "abs(datum.value*10-round(datum.value*10))<1e-6 ? format(datum.value,'.2f') : ''",
          "labelFontSize": 24, "labelFlush": false, "labelOverlap": false, "tickSize": 8, "labelPadding": 26.5,
          "title": "Liquid water (g kg⁻¹)", "titleFontSize": 33, "titlePadding": 26,
          "encode": {"ticks": {"update": {"y2": {"signal": "abs(datum.value*10-round(datum.value*10))<1e-6 ? 8 : -6"}, "stroke": {"signal": "abs(datum.value*10-round(datum.value*10))<1e-6 ? '#777777' : '#000000'"}}}}}},
      "y": {"field": "z", "type": "quantitative", "scale": {"domain": [0, 150], "nice": false},
        "axis": {"values": [0,10,20,30,40,50,60,70,80,90,100,110,120,130,140,150], "tickCount": 100,
          "labelExpr": "datum.value % 30 === 0 ? datum.label : ''",
          "labelFontSize": 24, "labelFlush": false, "labelOverlap": false, "tickSize": 11, "labelPadding": 17.7,
          "title": "z (m)", "titleFontSize": 28, "titlePadding": 20,
          "encode": {"ticks": {"update": {"x2": {"signal": "datum.value % 30 === 0 ? -11 : 6"}, "stroke": {"signal": "datum.value % 30 === 0 ? '#555555' : '#000000'"}}}}}},
      "color": {"field": "t", "type": "nominal", "scale": {"domain": ["08 UTC", "06 UTC", "04 UTC"], "range": ["#ff1a1a", "#1f3fff", "#000000"]},
        "legend": {"orient": "none", "legendX": 253, "legendY": 8.5, "title": null, "symbolType": "stroke", "symbolSize": 3844, "symbolStrokeWidth": 1, "labelFontSize": 24, "labelOffset": 1, "clipHeight": 24, "rowPadding": 6, "padding": 0}},
      "strokeDash": {"field": "s", "type": "nominal", "scale": {"domain": ["SAT", "EXP", "PRG"], "range": [[1, 0], [14, 5, 3, 5], [6, 3]]},
        "legend": {"orient": "none", "legendX": 15, "legendY": 17.5, "title": null, "symbolType": "stroke", "symbolSize": 8649, "symbolStrokeWidth": 1.5, "symbolStrokeColor": "#000000", "labelFontSize": 22, "labelOffset": 13, "clipHeight": 22, "rowPadding": 6, "padding": 0}},
      "order": {"field": "z", "type": "quantitative"}
     }
    },
    {
     "data": {"values": [{}]},
     "mark": {"type": "rule", "strokeDash": [1, 2], "color": "#555555", "strokeWidth": 1, "clip": false},
     "encoding": {"x": {"datum": 0.4595}, "y": {"datum": 153.4}, "y2": {"datum": -26.6}}
    }
   ]
  }
 ]
},
{
 "bounds": "flush",
 "columns": 3,
 "spacing": {"row": 41, "column": 24},
 "resolve": {"scale": {"color": "independent", "strokeDash": "independent"}},
 "concat": [
    {"width": 139, "height": 254.5, "data": {"name": "budget"}, "transform": [{"filter": "datum.r == 1 && datum.t == '04'"}],
     "title": {"text": "04 UTC", "anchor": "start", "frame": "group", "fontSize": 9, "offset": -5},
     "mark": {"type": "line", "strokeWidth": 1, "clip": true},
     "encoding": {
      "x": {"field": "v", "type": "quantitative", "scale": {"domain": [-0.6, 0.6], "nice": false, "zero": false},
        "axis": {"values": [-0.6,-0.5,-0.4,-0.3,-0.2,-0.1,0,0.1,0.2,0.3,0.4,0.5,0.6], "labelExpr": "abs(datum.value*10/3-round(datum.value*10/3))<1e-6 ? (datum.value<0 ? '-' : '')+format(abs(datum.value),'.2f') : ''", "labelFontSize": 8.5, "labelFlush": false, "labelOverlap": false, "tickSize": 3.5, "labelPadding": 5.2, "title": null,
          "encode": {"ticks": {"update": {"y2": {"signal": "abs(datum.value*10/3-round(datum.value*10/3))<1e-6 ? 3.5 : -2.5"}}}}}},
      "y": {"field": "z", "type": "quantitative", "scale": {"domain": [3, 150], "nice": false, "zero": false},
        "axis": {"values": [10,20,30,40,50,60,70,80,90,100,110,120,130,140,150], "labelExpr": "datum.value % 30 === 0 ? datum.label : ''", "labelFontSize": 8.5, "labelFlush": false, "labelOverlap": false, "tickSize": 3.5, "labelPadding": 6, "title": "z (m)", "titleFontSize": 10.5, "titlePadding": 6.5,
          "encode": {"ticks": {"update": {"x2": {"signal": "datum.value % 30 === 0 ? -3.5 : 2.5"}}}}}},
      "color": {"field": "term", "type": "nominal", "scale": {"domain": ["evaporation", "condensation"], "range": ["#2040ff", "#ff2020"]},
        "legend": {"orient": "none", "legendX": 73, "legendY": 5, "title": null, "symbolType": "stroke", "symbolSize": 361, "symbolStrokeWidth": 1, "labelFontSize": 7.7, "labelOffset": 1, "clipHeight": 8, "rowPadding": 1.5, "padding": 0}},
      "strokeDash": {"field": "s", "type": "nominal", "scale": {"domain": ["SAT", "PRG"], "range": [[1, 0], [3, 2]]}, "legend": null},
      "order": {"field": "z", "type": "quantitative"}
     }},
    {"width": 139, "height": 254.5, "data": {"name": "budget"}, "transform": [{"filter": "datum.r == 1 && datum.t == '06'"}],
     "title": {"text": "06 UTC", "anchor": "start", "frame": "group", "fontSize": 9, "offset": -5},
     "mark": {"type": "line", "strokeWidth": 1, "clip": true},
     "encoding": {
      "x": {"field": "v", "type": "quantitative", "scale": {"domain": [-0.6, 0.6], "nice": false, "zero": false},
        "axis": {"values": [-0.6,-0.5,-0.4,-0.3,-0.2,-0.1,0,0.1,0.2,0.3,0.4,0.5,0.6], "labelExpr": "abs(datum.value*10/3-round(datum.value*10/3))<1e-6 ? (datum.value<0 ? '-' : '')+format(abs(datum.value),'.2f') : ''", "labelFontSize": 8.5, "labelFlush": false, "labelOverlap": false, "tickSize": 3.5, "labelPadding": 5.2, "title": "LIquid water budget (10⁻³g kg⁻¹ s⁻¹)", "titleFontSize": 10.5, "titlePadding": 7.5,
          "encode": {"ticks": {"update": {"y2": {"signal": "abs(datum.value*10/3-round(datum.value*10/3))<1e-6 ? 3.5 : -2.5"}}}}}},
      "y": {"field": "z", "type": "quantitative", "scale": {"domain": [3, 150], "nice": false, "zero": false},
        "axis": {"values": [10,20,30,40,50,60,70,80,90,100,110,120,130,140,150], "labels": false, "tickSize": 3.5, "title": null,
          "encode": {"ticks": {"update": {"x2": {"signal": "datum.value % 30 === 0 ? -3.5 : 2.5"}}}}}},
      "color": {"field": "term", "type": "nominal", "scale": {"domain": ["evaporation", "condensation"], "range": ["#2040ff", "#ff2020"]}, "legend": null},
      "strokeDash": {"field": "s", "type": "nominal", "scale": {"domain": ["SAT", "PRG"], "range": [[1, 0], [3, 2]]}, "legend": null},
      "order": {"field": "z", "type": "quantitative"}
     }},
    {"width": 139, "height": 254.5, "data": {"name": "budget"}, "transform": [{"filter": "datum.r == 1 && datum.t == '08'"}],
     "title": {"text": "08 UTC", "anchor": "start", "frame": "group", "fontSize": 9, "offset": -5},
     "mark": {"type": "line", "strokeWidth": 1, "clip": true},
     "encoding": {
      "x": {"field": "v", "type": "quantitative", "scale": {"domain": [-0.6, 0.6], "nice": false, "zero": false},
        "axis": {"values": [-0.6,-0.5,-0.4,-0.3,-0.2,-0.1,0,0.1,0.2,0.3,0.4,0.5,0.6], "labelExpr": "abs(datum.value*10/3-round(datum.value*10/3))<1e-6 ? (datum.value<0 ? '-' : '')+format(abs(datum.value),'.2f') : ''", "labelFontSize": 8.5, "labelFlush": false, "labelOverlap": false, "tickSize": 3.5, "labelPadding": 5.2, "title": null,
          "encode": {"ticks": {"update": {"y2": {"signal": "abs(datum.value*10/3-round(datum.value*10/3))<1e-6 ? 3.5 : -2.5"}}}}}},
      "y": {"field": "z", "type": "quantitative", "scale": {"domain": [3, 150], "nice": false, "zero": false},
        "axis": {"values": [10,20,30,40,50,60,70,80,90,100,110,120,130,140,150], "labels": false, "tickSize": 3.5, "title": null,
          "encode": {"ticks": {"update": {"x2": {"signal": "datum.value % 30 === 0 ? -3.5 : 2.5"}}}}}},
      "color": {"field": "term", "type": "nominal", "scale": {"domain": ["evaporation", "condensation"], "range": ["#2040ff", "#ff2020"]}, "legend": null},
      "strokeDash": {"field": "s", "type": "nominal", "scale": {"domain": ["SAT", "PRG"], "range": [[1, 0], [3, 2]]}, "legend": null},
      "order": {"field": "z", "type": "quantitative"}
     }},
      {"width": 139, "height": 252, "data": {"name": "budget"}, "transform": [{"filter": "datum.r == 2 && datum.t == '04'"}],
       "mark": {"type": "line", "strokeWidth": 1.1, "clip": true},
       "encoding": {
        "x": {"field": "v", "type": "quantitative", "scale": {"domain": [-0.6, 0.6], "nice": false, "zero": false},
          "axis": {"values": [-0.6,-0.5,-0.4,-0.3,-0.2,-0.1,0,0.1,0.2,0.3,0.4,0.5,0.6], "labelExpr": "datum.value > 0.5 ? '600' : (abs(datum.value*10/3-round(datum.value*10/3))<1e-6 ? replace((datum.value<0 ? '-' : '')+format(abs(datum.value),'.2f'), '.', ' ') : '')", "labelFontSize": 8.5, "labelFlush": false, "labelOverlap": false, "tickSize": 3.5, "labelPadding": 5.2, "title": null,
            "encode": {"ticks": {"update": {"y2": {"signal": "abs(datum.value*10/3-round(datum.value*10/3))<1e-6 ? 3.5 : -2.5"}}}}}},
        "y": {"field": "z", "type": "quantitative", "scale": {"domain": [3, 150], "nice": false, "zero": false},
          "axis": {"values": [10,20,30,40,50,60,70,80,90,100,110,120,130,140,150], "labelExpr": "datum.value % 30 === 0 ? datum.label : ''", "labelFontSize": 8.5, "labelFlush": false, "labelOverlap": false, "tickSize": 3.5, "labelPadding": 6, "title": "z (m)", "titleFontSize": 10.5, "titlePadding": 6.5,
            "encode": {"ticks": {"update": {"x2": {"signal": "datum.value % 30 === 0 ? -3.5 : 2.5"}}}}}},
        "color": {"field": "term", "type": "nominal", "scale": {"domain": ["advection", "sedimentation"], "range": ["#aa46ff", "#137013"]},
          "legend": {"orient": "none", "legendX": 74, "legendY": 6.5, "title": null, "symbolType": "stroke", "symbolSize": 196, "symbolStrokeWidth": 2, "labelFontSize": 7.5, "labelOffset": 1, "clipHeight": 8.5, "rowPadding": 1, "padding": 0}},
        "strokeDash": {"field": "s", "type": "nominal", "scale": {"domain": ["SAT", "PRG"], "range": [[1, 0], [3, 2]]}, "legend": null},
        "order": {"field": "z", "type": "quantitative"}
       }},
      {"width": 139, "height": 252, "data": {"name": "budget"}, "transform": [{"filter": "datum.r == 2 && datum.t == '06'"}],
       "mark": {"type": "line", "strokeWidth": 1.1, "clip": true},
       "encoding": {
        "x": {"field": "v", "type": "quantitative", "scale": {"domain": [-0.6, 0.6], "nice": false, "zero": false},
          "axis": {"values": [-0.6,-0.5,-0.4,-0.3,-0.2,-0.1,0,0.1,0.2,0.3,0.4,0.5,0.6], "labelExpr": "abs(datum.value*10/3-round(datum.value*10/3))<1e-6 ? (datum.value<0 ? '-' : '')+format(abs(datum.value),'.2f') : ''", "labelFontSize": 8.5, "labelFlush": false, "labelOverlap": false, "tickSize": 3.5, "labelPadding": 5.2, "title": "LIquid water budget (10⁻³g kg⁻¹ s⁻¹)", "titleFontSize": 10.5, "titlePadding": 5.7,
            "encode": {"ticks": {"update": {"y2": {"signal": "abs(datum.value*10/3-round(datum.value*10/3))<1e-6 ? 3.5 : -2.5"}}}}}},
        "y": {"field": "z", "type": "quantitative", "scale": {"domain": [3, 150], "nice": false, "zero": false},
          "axis": {"values": [10,20,30,40,50,60,70,80,90,100,110,120,130,140,150], "labels": false, "tickSize": 3.5, "title": null,
            "encode": {"ticks": {"update": {"x2": {"signal": "datum.value % 30 === 0 ? -3.5 : 2.5"}}}}}},
        "color": {"field": "term", "type": "nominal", "scale": {"domain": ["advection", "sedimentation"], "range": ["#aa46ff", "#137013"]}, "legend": null},
        "strokeDash": {"field": "s", "type": "nominal", "scale": {"domain": ["SAT", "PRG"], "range": [[1, 0], [3, 2]]}, "legend": null},
        "order": {"field": "z", "type": "quantitative"}
       }},
      {"width": 139, "height": 252, "data": {"name": "budget"}, "transform": [{"filter": "datum.r == 2 && datum.t == '08'"}],
       "mark": {"type": "line", "strokeWidth": 1.1, "clip": true},
       "encoding": {
        "x": {"field": "v", "type": "quantitative", "scale": {"domain": [-0.6, 0.6], "nice": false, "zero": false},
          "axis": {"values": [-0.6,-0.5,-0.4,-0.3,-0.2,-0.1,0,0.1,0.2,0.3,0.4,0.5,0.6], "labelExpr": "abs(datum.value*10/3-round(datum.value*10/3))<1e-6 ? (datum.value<0 ? '-' : '')+format(abs(datum.value),'.2f') : ''", "labelFontSize": 8.5, "labelFlush": false, "labelOverlap": false, "tickSize": 3.5, "labelPadding": 5.2, "title": null,
            "encode": {"ticks": {"update": {"y2": {"signal": "abs(datum.value*10/3-round(datum.value*10/3))<1e-6 ? 3.5 : -2.5"}}}}}},
        "y": {"field": "z", "type": "quantitative", "scale": {"domain": [3, 150], "nice": false, "zero": false},
          "axis": {"values": [10,20,30,40,50,60,70,80,90,100,110,120,130,140,150], "labels": false, "tickSize": 3.5, "title": null,
            "encode": {"ticks": {"update": {"x2": {"signal": "datum.value % 30 === 0 ? -3.5 : 2.5"}}}}}},
        "color": {"field": "term", "type": "nominal", "scale": {"domain": ["advection", "sedimentation"], "range": ["#aa46ff", "#137013"]}, "legend": null},
        "strokeDash": {"field": "s", "type": "nominal", "scale": {"domain": ["SAT", "PRG"], "range": [[1, 0], [3, 2]]}, "legend": null},
        "order": {"field": "z", "type": "quantitative"}
       }},
      {"width": 139, "height": 251, "data": {"name": "budget"}, "transform": [{"filter": "datum.r == 3 && datum.t == '04'"}],
       "mark": {"type": "line", "strokeWidth": 1, "clip": true},
       "encoding": {
        "x": {"field": "v", "type": "quantitative", "scale": {"domain": [-0.6, 0.6], "nice": false, "zero": false},
          "axis": {"values": [-0.6,-0.5,-0.4,-0.3,-0.2,-0.1,0,0.1,0.2,0.3,0.4,0.5,0.6], "labelExpr": "abs(datum.value*10/3-round(datum.value*10/3))<1e-6 ? (datum.value<0 ? '-' : '')+format(abs(datum.value),'.2f') : ''", "labelFontSize": 8.5, "labelFlush": false, "labelOverlap": false, "tickSize": 3.5, "labelPadding": -2, "title": null,
            "encode": {"ticks": {"update": {"y2": {"signal": "abs(datum.value*10/3-round(datum.value*10/3))<1e-6 ? 3.5 : -2.5"}}}}}},
        "y": {"field": "z", "type": "quantitative", "scale": {"domain": [3, 150], "nice": false, "zero": false},
          "axis": {"values": [10,20,30,40,50,60,70,80,90,100,110,120,130,140,150], "labelExpr": "datum.value % 30 === 0 ? datum.label : ''", "labelFontSize": 8.5, "labelFlush": false, "labelOverlap": false, "tickSize": 3.5, "labelPadding": 6, "title": "z (m)", "titleFontSize": 10.5, "titlePadding": 6.5,
            "encode": {"ticks": {"update": {"x2": {"signal": "datum.value % 30 === 0 ? -3.5 : 2.5"}}}}}},
        "color": {"field": "term", "type": "nominal", "scale": {"domain": ["total"], "range": ["#000000"]},
          "legend": {"orient": "none", "legendX": 72, "legendY": 5, "title": null, "symbolType": "stroke", "symbolSize": 1156, "symbolStrokeWidth": 1, "labelFontSize": 15, "labelOffset": 1, "clipHeight": 15, "padding": 0}},
        "strokeDash": {"field": "s", "type": "nominal", "scale": {"domain": ["SAT", "PRG"], "range": [[1, 0], [3, 2]]}, "legend": null},
        "order": {"field": "z", "type": "quantitative"}
       }},
      {"width": 139, "height": 251, "data": {"name": "budget"}, "transform": [{"filter": "datum.r == 3 && datum.t == '06'"}],
       "mark": {"type": "line", "strokeWidth": 1, "clip": true},
       "encoding": {
        "x": {"field": "v", "type": "quantitative", "scale": {"domain": [-0.6, 0.6], "nice": false, "zero": false},
          "axis": {"values": [-0.6,-0.5,-0.4,-0.3,-0.2,-0.1,0,0.1,0.2,0.3,0.4,0.5,0.6], "labelExpr": "abs(datum.value*10/3-round(datum.value*10/3))<1e-6 ? (datum.value<0 ? '-' : '')+format(abs(datum.value),'.2f') : ''", "labelFontSize": 8.5, "labelFlush": false, "labelOverlap": false, "tickSize": 3.5, "labelPadding": -2, "title": "Liquid water budget (10⁻³g kg⁻¹ s⁻¹)", "titleFontSize": 10.5, "titlePadding": 11,
            "encode": {"ticks": {"update": {"y2": {"signal": "abs(datum.value*10/3-round(datum.value*10/3))<1e-6 ? 3.5 : -2.5"}}}}}},
        "y": {"field": "z", "type": "quantitative", "scale": {"domain": [3, 150], "nice": false, "zero": false},
          "axis": {"values": [10,20,30,40,50,60,70,80,90,100,110,120,130,140,150], "labels": false, "tickSize": 3.5, "title": null,
            "encode": {"ticks": {"update": {"x2": {"signal": "datum.value % 30 === 0 ? -3.5 : 2.5"}}}}}},
        "color": {"field": "term", "type": "nominal", "scale": {"domain": ["total"], "range": ["#000000"]}, "legend": null},
        "strokeDash": {"field": "s", "type": "nominal", "scale": {"domain": ["SAT", "PRG"], "range": [[1, 0], [3, 2]]}, "legend": null},
        "order": {"field": "z", "type": "quantitative"}
       }},
      {"width": 139, "height": 251, "data": {"name": "budget"}, "transform": [{"filter": "datum.r == 3 && datum.t == '08'"}],
       "mark": {"type": "line", "strokeWidth": 1, "clip": true},
       "encoding": {
        "x": {"field": "v", "type": "quantitative", "scale": {"domain": [-0.6, 0.6], "nice": false, "zero": false},
          "axis": {"values": [-0.6,-0.5,-0.4,-0.3,-0.2,-0.1,0,0.1,0.2,0.3,0.4,0.5,0.6], "labelExpr": "abs(datum.value*10/3-round(datum.value*10/3))<1e-6 ? (datum.value<0 ? '-' : '')+format(abs(datum.value),'.2f') : ''", "labelFontSize": 8.5, "labelFlush": false, "labelOverlap": false, "tickSize": 3.5, "labelPadding": -2, "title": null,
            "encode": {"ticks": {"update": {"y2": {"signal": "abs(datum.value*10/3-round(datum.value*10/3))<1e-6 ? 3.5 : -2.5"}}}}}},
        "y": {"field": "z", "type": "quantitative", "scale": {"domain": [3, 150], "nice": false, "zero": false},
          "axis": {"values": [10,20,30,40,50,60,70,80,90,100,110,120,130,140,150], "labels": false, "tickSize": 3.5, "title": null,
            "encode": {"ticks": {"update": {"x2": {"signal": "datum.value % 30 === 0 ? -3.5 : 2.5"}}}}}},
        "color": {"field": "term", "type": "nominal", "scale": {"domain": ["total"], "range": ["#000000"]}, "legend": null},
        "strokeDash": {"field": "s", "type": "nominal", "scale": {"domain": ["SAT", "PRG"], "range": [[1, 0], [3, 2]]}, "legend": null},
        "order": {"field": "z", "type": "quantitative"}
       }}
 ]
}
]
}
